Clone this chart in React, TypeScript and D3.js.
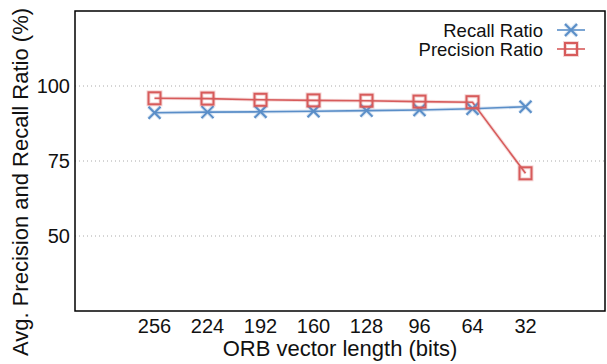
import * as d3 from "d3";

const lengths = ["256", "224", "192", "160", "128", "96", "64", "32"];
const recall = [91.1, 91.3, 91.4, 91.6, 91.8, 92.0, 92.4, 93.1];
const precision = [95.9, 95.8, 95.4, 95.2, 95.1, 94.8, 94.6, 70.9];
const yTicks = [50, 75, 100];

const W = 607;
const H = 364;
const BLUE = "#5a8ec8";
const RED = "#d75b5b";
const FONT = "'Liberation Sans', Arial, Helvetica, sans-serif";

function Cross({ x, y, color }: { x: number; y: number; color: string }) {
  const s = 6;
  const d = `M${x - s},${y - s}L${x + s},${y + s}M${x - s},${y + s}L${x + s},${y - s}`;
  return (
    <g>
      <path d={d} stroke={color} strokeWidth={4} opacity={0.25} fill="none" />
      <path d={d} stroke={color} strokeWidth={2} fill="none" />
    </g>
  );
}

function Square({ x, y, color }: { x: number; y: number; color: string }) {
  const s = 6;
  return (
    <g>
      <rect x={x - s} y={y - s} width={2 * s} height={2 * s} stroke={color} strokeWidth={4} opacity={0.25} fill="none" />
      <rect x={x - s} y={y - s} width={2 * s} height={2 * s} stroke={color} strokeWidth={2} fill="none" />
    </g>
  );
}

export default function App() {
  const m = { left: 75, right: 605, top: 11, bottom: 311 };
  const x = d3.scalePoint<string>().domain(lengths).range([m.left, m.right]).padding(1.5);
  const y = d3.scaleLinear().domain([25, 125]).range([m.bottom, m.top]);

  const line = d3.line<number>()
    .x((_, i) => x(lengths[i]) as number)
    .y(d => y(d));

  return (
    <svg width={W} height={H} style={{ position: "absolute", left: 0, top: 0, background: "#fff" }} fontFamily={FONT}>
      {/* grid */}
      {yTicks.map(t => (
        <g key={t}>
          <line x1={m.left} x2={m.right} y1={y(t)} y2={y(t)} stroke="#aaa" strokeWidth={1} strokeDasharray="1,3" />
          <text x={70} y={y(t) + 7} textAnchor="end" fontSize={20} fill="#111">{t}</text>
        </g>
      ))}

      {/* x tick labels */}
      {lengths.map(l => (
        <text key={l} x={x(l)} y={333} textAnchor="middle" fontSize={20} fill="#111">{l}</text>
      ))}

      {/* series lines */}
      <path d={line(recall) ?? ""} fill="none" stroke={BLUE} strokeWidth={3.5} opacity={0.22} />
      <path d={line(recall) ?? ""} fill="none" stroke={BLUE} strokeWidth={1.6} />
      <path d={line(precision) ?? ""} fill="none" stroke={RED} strokeWidth={3.5} opacity={0.22} />
      <path d={line(precision) ?? ""} fill="none" stroke={RED} strokeWidth={1.6} />

      {recall.map((v, i) => <Cross key={"r" + i} x={x(lengths[i]) as number} y={y(v)} color={BLUE} />)}
      {precision.map((v, i) => <Square key={"p" + i} x={x(lengths[i]) as number} y={y(v)} color={RED} />)}

      {/* frame */}
      <rect x={m.left} y={m.top} width={m.right - m.left} height={m.bottom - m.top} fill="none" stroke="#000" strokeWidth={1.5} />

      {/* legend */}
      <text x={543} y={36.5} textAnchor="end" fontSize={18.5} fill="#111">Recall Ratio</text>
      <line x1={557} x2={585} y1={30} y2={30} stroke={BLUE} strokeWidth={1.6} />
      <Cross x={571} y={30} color={BLUE} />
      <text x={543} y={55.5} textAnchor="end" fontSize={18.5} fill="#111">Precision Ratio</text>
      <line x1={557} x2={585} y1={49} y2={49} stroke={RED} strokeWidth={1.6} />
      <Square x={571} y={49} color={RED} />

      {/* axis titles */}
      <text x={340} y={356} textAnchor="middle" fontSize={22} fill="#111">ORB vector length (bits)</text>
      <text transform="translate(28,182) rotate(-90)" textAnchor="middle" fontSize={22} fill="#111">
        Avg. Precision and Recall Ratio (%)
      </text>
    </svg>
  );
}
